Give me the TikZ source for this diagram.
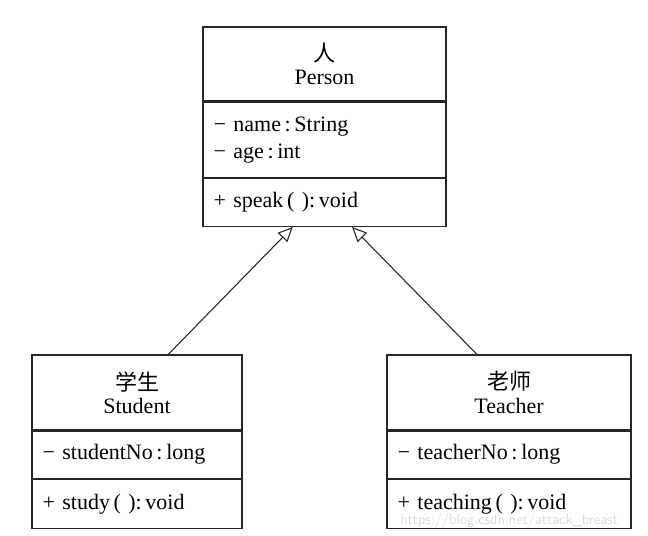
\documentclass[tikz,border=0pt]{standalone}
\usepackage{fontspec}
\setmainfont{Liberation Serif}
\newfontfamily\cjk{Noto Sans CJK SC}
\usetikzlibrary{arrows.meta,positioning,calc}

\begin{document}
\begin{tikzpicture}[
  x=0.75pt, y=-0.75pt,
  cls/.style={draw=black!85, line width=0.9pt, inner xsep=8pt, inner ysep=0pt, font=\fontsize{16.5}{17.5}\selectfont},
  head/.style={cls, align=center},
  part/.style={cls, align=left, font=\fontsize{16.5}{20.25}\selectfont},
  inh/.style={-{Triangle[open,length=11pt,width=10pt]}, line width=0.8pt, draw=black!85}
]
\useasboundingbox (0,0) rectangle (648,535);
% Person
\node[head, minimum width=182.25pt, minimum height=55.5pt] (person) at (324.5,64) {{\cjk 人}\\Person};
\node[part, below=0pt of person, minimum width=182.25pt, text width=166.25pt, minimum height=56.25pt] (personAttr) {− name\,:\,String\\− age\,:\,int};
\node[part, below=0pt of personAttr, minimum width=182.25pt, text width=166.25pt, minimum height=36pt] (personOps) {+ speak\,(\ ):\,void};
% Student
\node[head, minimum width=157.5pt, minimum height=56.25pt] (student) at (137,392.5) {{\cjk 学生}\\Student};
\node[part, below=0pt of student, minimum width=157.5pt, text width=141.5pt, minimum height=35.25pt] (studentAttr) {− studentNo\,:\,long};
\node[part, below=0pt of studentAttr, minimum width=157.5pt, text width=141.5pt, minimum height=36.75pt] (studentOps) {+ study\,(\ ):\,void};
% Teacher
\node[head, minimum width=183pt, minimum height=56.25pt] (teacher) at (509,392.5) {{\cjk 老师}\\Teacher};
\node[part, below=0pt of teacher, minimum width=183pt, text width=167pt, minimum height=35.25pt] (teacherAttr) {− teacherNo\,:\,long};
\node[part, below=0pt of teacherAttr, minimum width=183pt, text width=167pt, minimum height=36.75pt] (teacherOps) {+ teaching\,(\ ):\,void};
% generalisation
\draw[inh] ($(student.north west)!0.648!(student.north east)$) -- ($(personOps.south west)!0.37!(personOps.south east)$);
\draw[inh] ($(teacher.north west)!0.369!(teacher.north east)$) -- ($(personOps.south west)!0.613!(personOps.south east)$);
% watermark
\node[text=black!15, font=\sffamily\fontsize{11}{11}\selectfont, anchor=west, inner sep=0pt] (mark) at (400,521) {https://blog.csdn.net/attack\_breast};
\end{tikzpicture}
\end{document}
